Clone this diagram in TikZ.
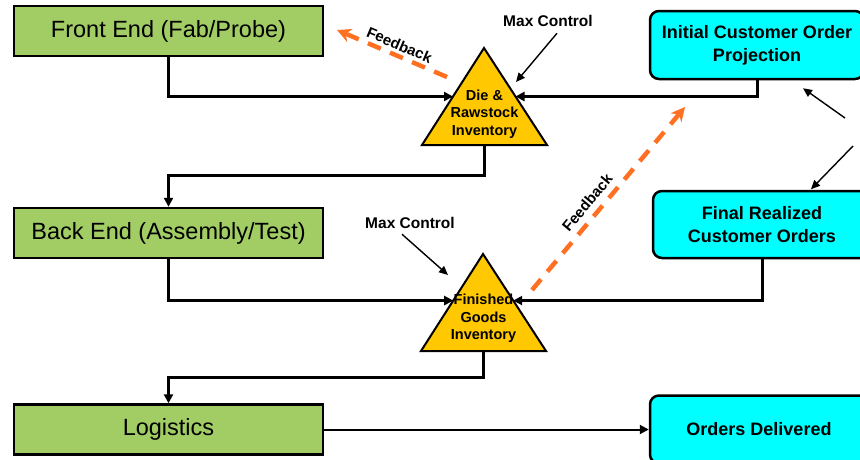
\documentclass[tikz,border=0pt]{standalone}
\usepackage{fontspec}
\setmainfont{Liberation Sans}
\usetikzlibrary{arrows.meta,calc}
\definecolor{stagegreen}{HTML}{A2CD65}
\definecolor{ordercyan}{HTML}{00FFFF}
\definecolor{stockgold}{HTML}{FFC800}
\definecolor{fborange}{HTML}{FF7022}

\begin{document}
\begin{tikzpicture}[x=1pt,y=-1pt,line join=miter,
  stage/.style={draw,line width=2.5pt,fill=stagegreen,minimum width=309pt,
    minimum height=50pt,inner sep=0pt,font=\fontsize{23.5}{28}\selectfont},
  order/.style={draw,line width=2.5pt,fill=ordercyan,rounded corners=9pt,
    align=center,inner sep=0pt,font=\bfseries\fontsize{18}{23}\selectfont},
  stock/.style={draw,line width=2pt,fill=stockgold},
  stocktext/.style={align=center,inner sep=0pt,font=\bfseries\fontsize{14.5}{17.5}\selectfont},
  flow/.style={-{Triangle[length=9pt,width=9pt]},line width=3pt},
  ctrl/.style={-{Triangle[length=9pt,width=8pt]},line width=1.4pt},
  ctrltext/.style={font=\bfseries\fontsize{15.5}{18}\selectfont},
  feedback/.style={-{Stealth[length=14pt,width=14pt]},fborange,line width=4.5pt,
    dash pattern=on 14pt off 10pt},
  fbtext/.style={text=black,font=\bfseries\fontsize{15}{18}\selectfont,inner sep=3pt}]
  \useasboundingbox (0,0) rectangle (860,459);

  \node[stage] (front) at (168.5,31) {Front End (Fab/Probe)};
  \node[stage] (back) at (168.5,233) {Back End (Assembly/Test)};
  \node[stage] (logi) at (168.5,429.5) {Logistics};

  \node[order,minimum width=214pt,minimum height=68pt] (init) at (757,45)
    {Initial Customer Order\\Projection};
  \node[order,minimum width=218pt,minimum height=67pt] (final) at (762,224.5)
    {Final Realized\\Customer Orders};
  \node[order,minimum width=218pt,minimum height=68pt] (deliv) at (759,429.5)
    {Orders Delivered};

  \coordinate (driTop) at (484,48);
  \coordinate (driL) at (422,145);
  \coordinate (driR) at (547,145);
  \draw[stock] (driTop)--(driR)--(driL)--cycle;
  \node[stocktext] (dri) at (484.5,114) {Die \&\\Rawstock\\Inventory};

  \coordinate (fgiTop) at (483,254);
  \coordinate (fgiL) at (421,351);
  \coordinate (fgiR) at (546,351);
  \draw[stock] (fgiTop)--(fgiR)--(fgiL)--cycle;
  \node[stocktext] (fgi) at (483.5,318.5) {Finished\\Goods\\Inventory};

  \draw[flow] (front.south) |- ($(driTop)!.5!(driL)$);
  \draw[flow] (init.south) |- ($(driTop)!.5!(driR)$);
  \draw[flow] ($(driL)!.5!(driR)$) -- ++(0,30) -| (back.north);
  \draw[flow] (back.south) |- ($(fgiTop)!.48!(fgiL)$);
  \draw[flow] (final.south) |- ($(fgiTop)!.48!(fgiR)$);
  \draw[flow] ($(fgiL)!.5!(fgiR)$) -- ++(0,26) -| (logi.north);
  \draw[flow,line width=2pt] (logi.east) -- (deliv.west);

  \node[ctrltext] (maxA) at (548,21) {Max Control};
  \node[ctrltext] (maxB) at (410,223) {Max Control};
  \coordinate (driCtl) at (516,82);
  \coordinate (fgiCtl) at (448,275);
  \draw[ctrl] ($(maxA.south)+(9,3)$) -- (driCtl);
  \draw[ctrl] ($(maxB.south)+(-8,2)$) -- (fgiCtl);

  \coordinate (projFrom) at (845,118);
  \coordinate (realFrom) at (853,146);
  \draw[ctrl] (projFrom) -- ($(init.south)+(46,8)$);
  \draw[ctrl] (realFrom) -- ($(final.north)+(49,-0.5)$);

  \coordinate (fbA) at (447,77);
  \coordinate (fbB) at (532,290);
  \draw[feedback] (fbA) -- (337,30)
    node[fbtext,pos=.47,sloped,above] {Feedback};
  \draw[feedback] (fbB) -- (685,107)
    node[fbtext,pos=.43,sloped,above,inner sep=6pt] {Feedback};
\end{tikzpicture}
\end{document}
